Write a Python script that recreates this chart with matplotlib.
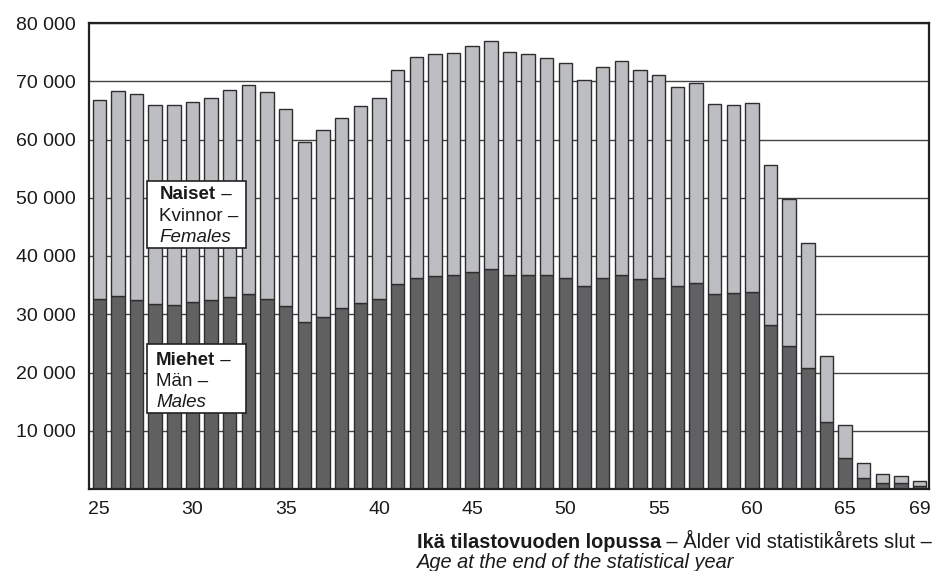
import matplotlib
matplotlib.use("Agg")
import matplotlib.pyplot as plt
from matplotlib.patches import Rectangle

plt.rcParams['font.family'] = ['Liberation Sans', 'DejaVu Sans']

ages = list(range(25, 70))
males = [32600, 33200, 32500, 31800, 31600, 32100, 32400, 33000, 33500, 32600,
         31500, 28600, 29600, 31100, 32000, 32600, 35200, 36200, 36600, 36700,
         37300, 37700, 36800, 36800, 36700, 36300, 34900, 36200, 36700, 36100,
         36300, 34900, 35300, 33500, 33600, 33800, 28100, 24500, 20800, 11500,
         5400, 1900, 1100, 1000, 600]
females = [34200, 35200, 35300, 34200, 34300, 34300, 34700, 35500, 35800, 35500,
           33700, 31000, 32000, 32600, 33700, 34500, 36800, 38000, 38100, 38200,
           38800, 39200, 38300, 37800, 37300, 36900, 35300, 36300, 36700, 35800,
           34800, 34100, 34400, 32600, 32400, 32400, 27600, 25300, 21500, 11400,
           5600, 2500, 1500, 1300, 700]
xticks = [25, 30, 35, 40, 45, 50, 55, 60, 65, 69]
yticks = [10000, 20000, 30000, 40000, 50000, 60000, 70000, 80000]
ytick_labels = ['10 000', '20 000', '30 000', '40 000', '50 000', '60 000', '70 000', '80 000']

W, H = 937, 571
fig = plt.figure(figsize=(W / 100, H / 100), dpi=100)
ax = fig.add_axes([89 / W, 1 - 489 / H, (929 - 89) / W, (489 - 23) / H])

dark = '#616163'
light = '#bdbec2'
edge = '#2e2e2e'
ax.bar(ages, males, width=0.72, color=dark, edgecolor=edge, linewidth=1.0, zorder=3)
ax.bar(ages, females, width=0.72, bottom=males, color=light, edgecolor=edge, linewidth=1.0, zorder=3)

ax.set_xlim(24.45, 69.5)
ax.set_ylim(0, 80000)
ax.set_yticks(yticks)
ax.set_yticklabels(ytick_labels)
ax.set_xticks(xticks)
ax.set_xticklabels([str(t) for t in xticks])
ax.tick_params(axis='both', length=0, labelsize=14, colors='#1a1a1a')
ax.tick_params(axis='y', pad=9.5)
ax.tick_params(axis='x', pad=8.5)
ax.grid(axis='y', color='#444444', linewidth=1.0, zorder=0)
ax.set_axisbelow(True)
for s in ax.spines.values():
    s.set_linewidth(1.6)
    s.set_color('#222222')
    s.set_zorder(5)

tc = '#1a1a1a'
ft = fig.transFigure


def label_box(x0, y0, x1, y1):
    r = Rectangle((x0 / W, 1 - y1 / H), (x1 - x0) / W, (y1 - y0) / H,
                  transform=ft, facecolor='white', edgecolor='#222222',
                  linewidth=1.2, zorder=10, clip_on=False)
    ax.add_patch(r)


def chain(x, y, parts, fs=13.5):
    txt, w, st = parts[0]
    t = ax.text(x / W, 1 - y / H, txt, transform=ft, fontsize=fs, color=tc,
                fontweight=w, fontstyle=st, va='baseline', ha='left', zorder=11, clip_on=False)
    for txt, w, st in parts[1:]:
        t = ax.annotate(txt, xy=(1, 0), xycoords=t, fontsize=fs, color=tc,
                        fontweight=w, fontstyle=st, va='bottom', ha='left',
                        zorder=11, annotation_clip=False)
    return t


label_box(147, 181, 246, 248)
chain(160, 199, [('Naiset', 'bold', 'normal'), (' –', 'normal', 'normal')])
chain(159, 221, [('Kvinnor –', 'normal', 'normal')])
chain(159, 242, [('Females', 'normal', 'italic')])

label_box(147, 344, 246, 413)
chain(156, 365, [('Miehet', 'bold', 'normal'), (' –', 'normal', 'normal')])
chain(156, 386, [('Män –', 'normal', 'normal')])
chain(156, 407, [('Males', 'normal', 'italic')])

chain(417, 548, [('Ikä tilastovuoden lopussa', 'bold', 'normal'),
                 (' – Ålder vid statistikårets slut –', 'normal', 'normal')], fs=14.4)
chain(417, 568, [('Age at the end of the statistical year', 'normal', 'italic')], fs=14.4)

fig.savefig('out.png', dpi=100)
